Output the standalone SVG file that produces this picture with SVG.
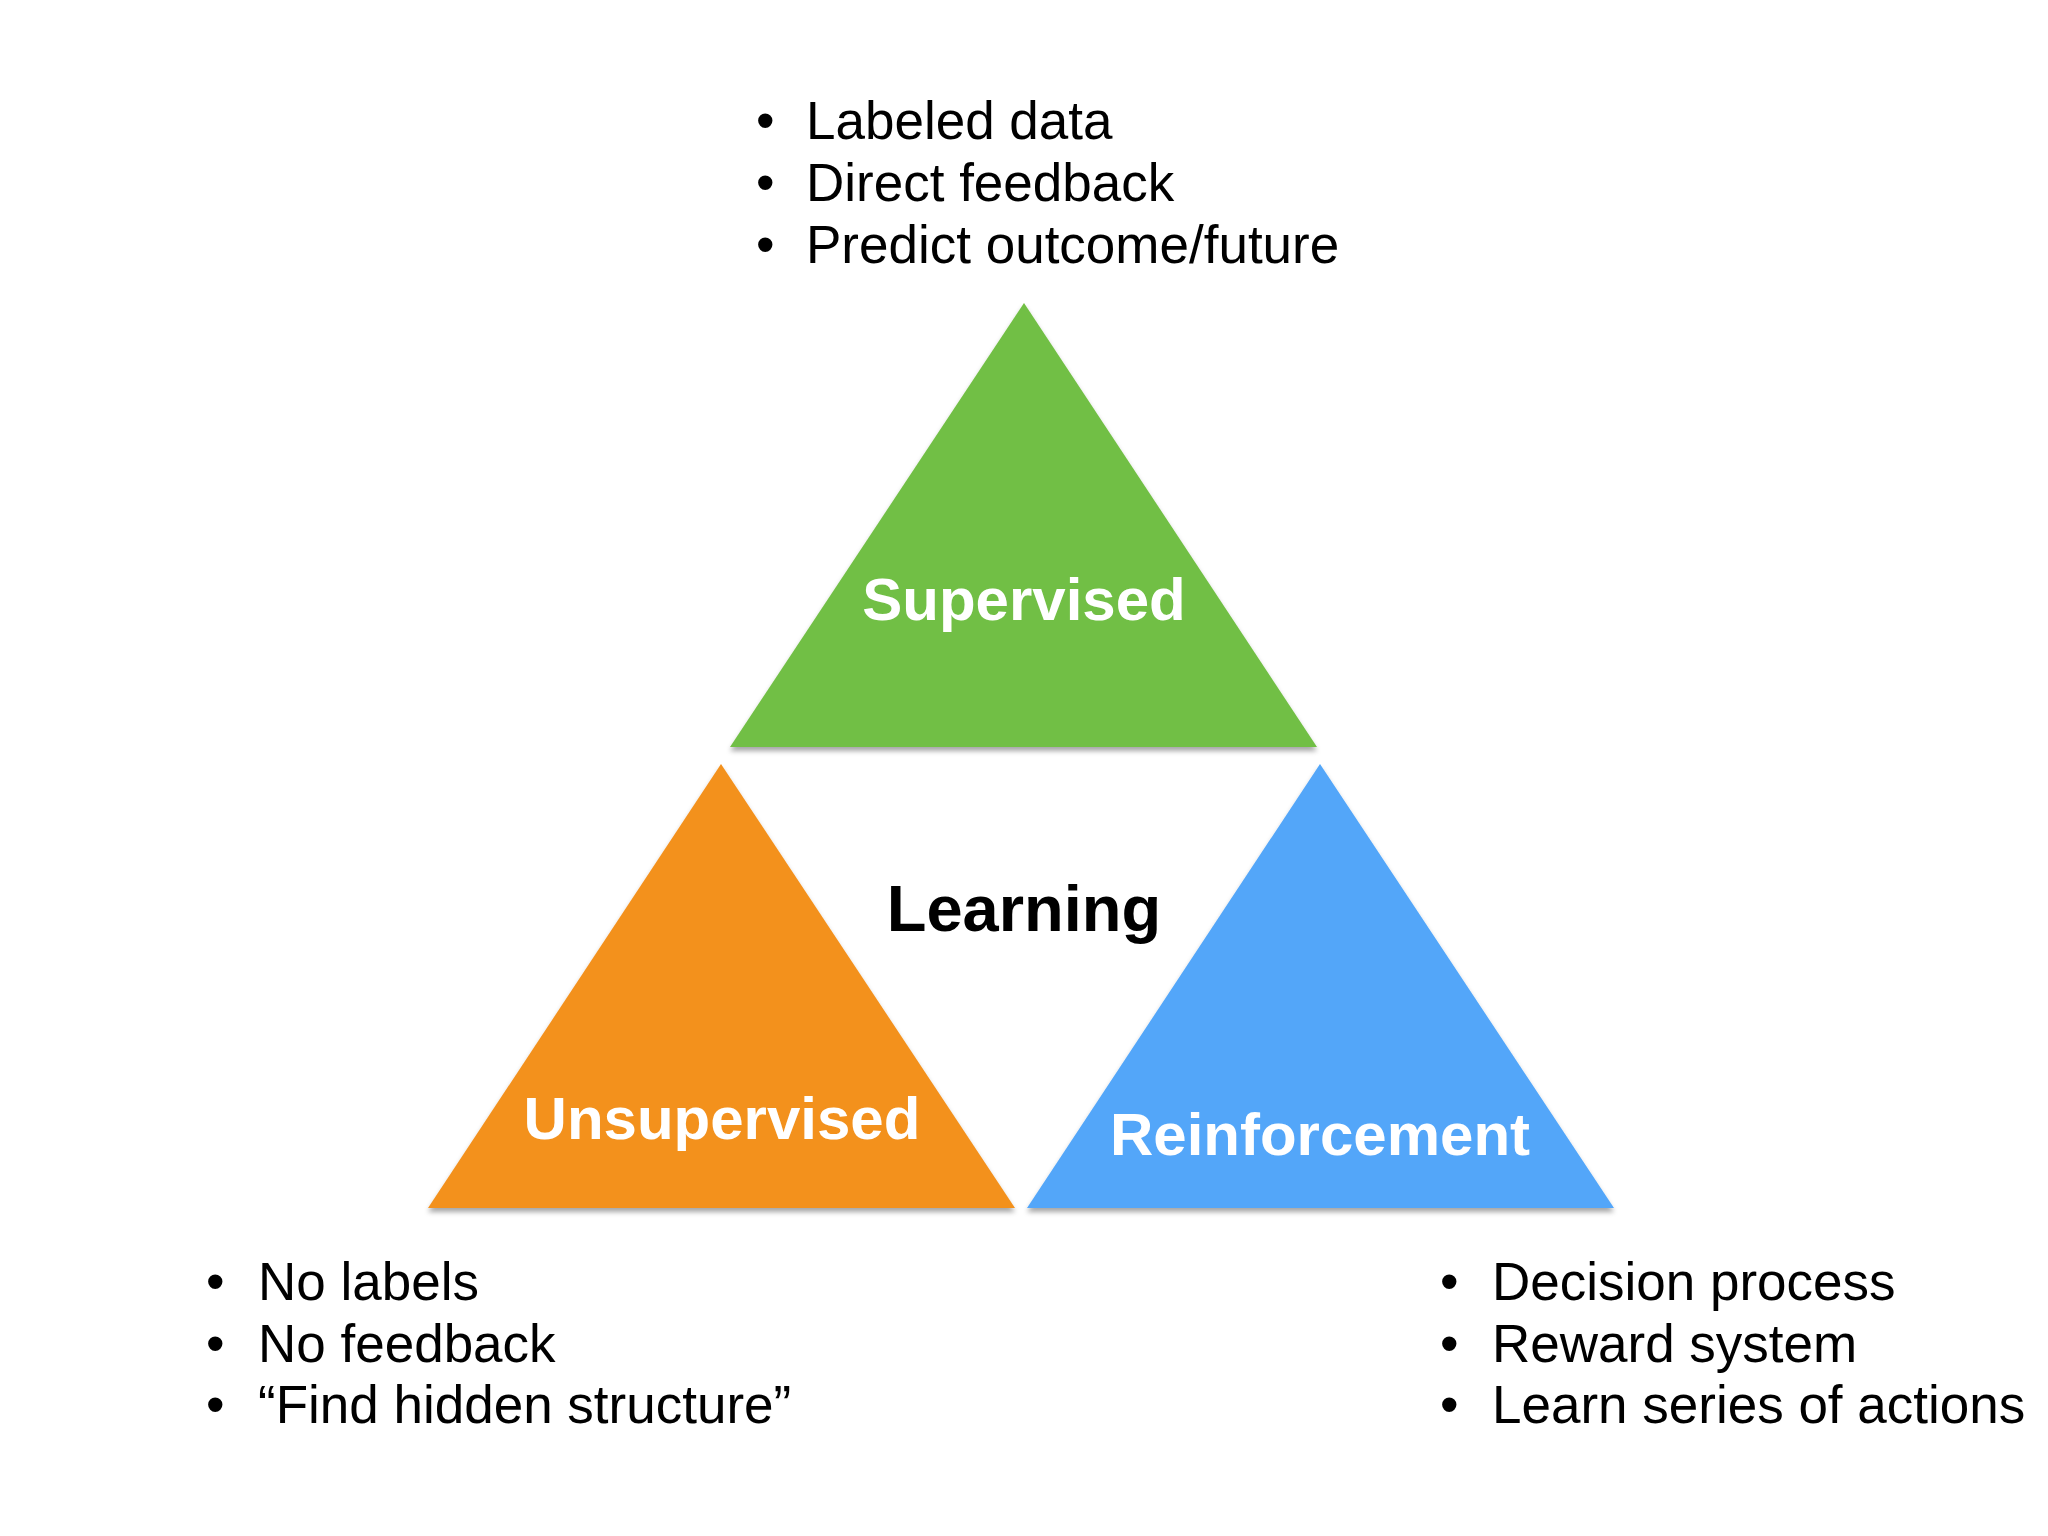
<svg xmlns="http://www.w3.org/2000/svg" width="2048" height="1536" viewBox="0 0 2048 1536">
  <defs>
    <filter id="shadow" x="-10%" y="-10%" width="120%" height="125%">
      <feDropShadow dx="0" dy="4" stdDeviation="2.5" flood-color="#000" flood-opacity="0.35"/>
    </filter>
  </defs>
  <style>
    .tri { filter: url(#shadow); }
    .label { font-family: "Liberation Sans", Arial, sans-serif; font-weight: bold; font-size: 60px; fill: #ffffff; text-anchor: middle; }
    .title { font-family: "Liberation Sans", Arial, sans-serif; font-weight: bold; font-size: 65px; fill: #000000; text-anchor: middle; }
    .item { font-family: "Liberation Sans", Arial, sans-serif; font-size: 53px; fill: #000000; }
  </style>
  <rect x="0" y="0" width="2048" height="1536" fill="#ffffff"/>

  <g id="supervised">
    <polygon class="tri" points="1024,303 1317,747 730,747" fill="#71bf44"/>
    <text class="label" x="1024" y="620">Supervised</text>
  </g>

  <g id="unsupervised">
    <polygon class="tri" points="721,764 1015,1208 428,1208" fill="#f3911e"/>
    <text class="label" x="722" y="1139">Unsupervised</text>
  </g>

  <g id="reinforcement">
    <polygon class="tri" points="1320,764 1614,1208 1027,1208" fill="#52a6f9"/>
    <text class="label" x="1320" y="1155">Reinforcement</text>
  </g>

  <g id="learning">
    <text class="title" x="1024" y="931">Learning</text>
  </g>

  <g id="supervised-notes">
    <text class="item" x="756" y="139">•</text>
    <text class="item" x="806" y="139">Labeled data</text>
    <text class="item" x="756" y="201">•</text>
    <text class="item" x="806" y="201">Direct feedback</text>
    <text class="item" x="756" y="263">•</text>
    <text class="item" x="806" y="263">Predict outcome/future</text>
  </g>

  <g id="unsupervised-notes">
    <text class="item" x="206" y="1300">•</text>
    <text class="item" x="258" y="1300">No labels</text>
    <text class="item" x="206" y="1362">•</text>
    <text class="item" x="258" y="1362">No feedback</text>
    <text class="item" x="206" y="1423">•</text>
    <text class="item" x="258" y="1423">“Find hidden structure”</text>
  </g>

  <g id="reinforcement-notes">
    <text class="item" x="1440" y="1300">•</text>
    <text class="item" x="1492" y="1300">Decision process</text>
    <text class="item" x="1440" y="1362">•</text>
    <text class="item" x="1492" y="1362">Reward system</text>
    <text class="item" x="1440" y="1423">•</text>
    <text class="item" x="1492" y="1423">Learn series of actions</text>
  </g>
</svg>
